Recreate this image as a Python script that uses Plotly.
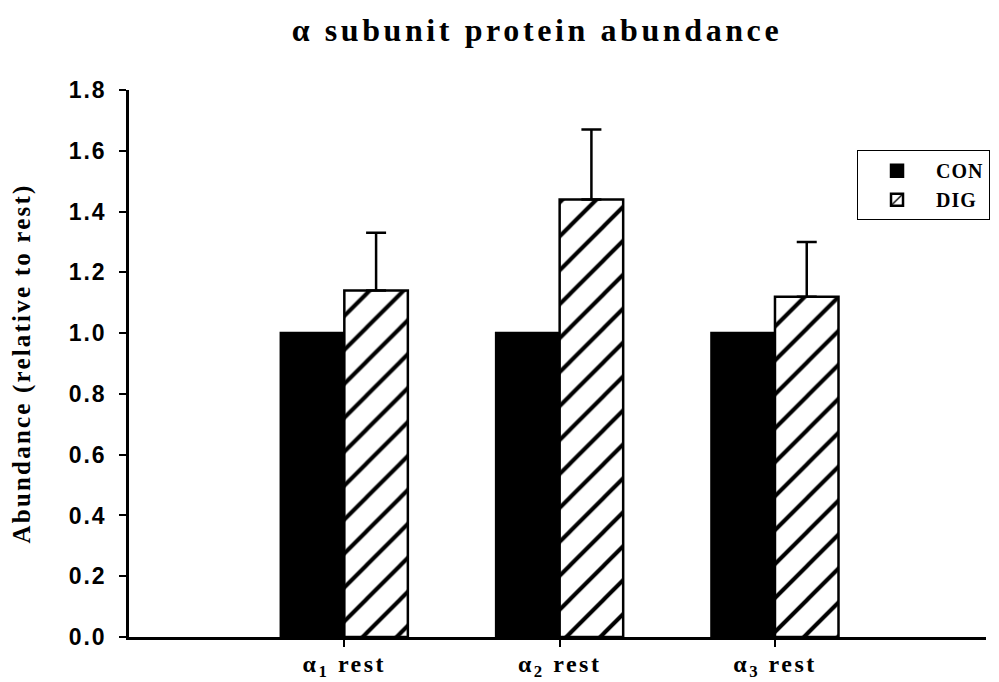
import plotly.graph_objects as go

categories = ["α<sub>1</sub> rest", "α<sub>2</sub> rest", "α<sub>3</sub> rest"]
con_values = [1.0, 1.0, 1.0]
dig_values = [1.14, 1.44, 1.12]
dig_err_plus = [0.19, 0.23, 0.18]
y_ticks = [0.0, 0.2, 0.4, 0.6, 0.8, 1.0, 1.2, 1.4, 1.6, 1.8]

def spaced(txt, ls):
    return f'<span style="letter-spacing:{ls}px">{txt}</span>'

fig = go.Figure()
fig.add_trace(go.Bar(
    x=categories, y=con_values, name=spaced("<b>CON</b>", 1),
    marker=dict(color="black", line=dict(color="black", width=2.5)),
))
fig.add_trace(go.Bar(
    x=categories, y=dig_values, name=spaced("<b>DIG</b>", 1),
    marker=dict(color="white", line=dict(color="black", width=2.5),
                pattern=dict(shape="/", fgcolor="black", bgcolor="white",
                             fgopacity=1, size=24, solidity=0.17,
                             fillmode="replace")),
    error_y=dict(type="data", symmetric=False, array=dig_err_plus,
                 arrayminus=[0, 0, 0], color="black", thickness=2.5, width=10),
))

fig.update_layout(
    width=999, height=682,
    paper_bgcolor="white", plot_bgcolor="white",
    margin=dict(l=121, r=21, t=82, b=53, autoexpand=False),
    barmode="group", bargap=0.41, bargroupgap=0,
    title=dict(text=spaced("<b>α subunit protein abundance</b>", 3.6),
               x=0.476, xref="paper", xanchor="center", y=0.968, yanchor="middle",
               font=dict(family="Liberation Serif", size=32, color="black")),
    showlegend=True,
    legend=dict(x=0.8495, y=0.89, xanchor="left", yanchor="top",
                bordercolor="black", borderwidth=1, bgcolor="white",
                font=dict(family="Liberation Serif", size=20, color="black"),
                traceorder="normal", itemwidth=68, tracegroupgap=0),
    xaxis=dict(type="category", range=[-1.0, 2.98], automargin=False,
               showline=True, linecolor="black", linewidth=2.5,
               ticks="outside", ticklen=7, tickwidth=1.5, tickcolor="black",
               ticklabelstandoff=-4,
               tickvals=categories,
               ticktext=[spaced(f"<b>{c}</b>", 2.5) for c in categories],
               tickfont=dict(family="Liberation Serif", size=24, color="black"),
               showgrid=False, zeroline=False),
    yaxis=dict(range=[0, 1.8], tickvals=y_ticks, automargin=False,
               ticktext=[spaced(f"<b>{v:.1f}</b>", 2) for v in y_ticks],
               showline=True, linecolor="black", linewidth=2.5,
               ticks="outside", ticklen=7, tickwidth=2, tickcolor="black",
               ticklabelstandoff=8,
               tickfont=dict(family="Liberation Sans", size=23, color="black"),
               showgrid=False, zeroline=False,
               title=dict(text=spaced("<b>Abundance (relative to rest)</b>", 2.2),
                          font=dict(family="Liberation Serif", size=25, color="black"),
                          standoff=38)),
)

fig.write_html("out.html")
